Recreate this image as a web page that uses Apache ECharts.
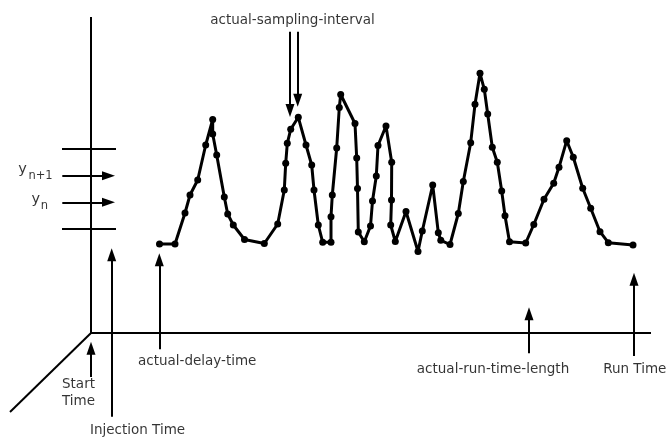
<!DOCTYPE html>
<html>
<head>
<meta charset="utf-8">
<script src="https://cdn.jsdelivr.net/npm/echarts@6/dist/echarts.min.js"></script>
<style>
html,body{margin:0;padding:0;background:#fff;}
#chart{width:670px;height:439px;}
</style>
</head>
<body>
<div id="chart"></div>
<script>
// Sampled detector signal (time, signal)
var sampleTimes = [6.85, 8.4, 9.4, 9.9, 10.67, 11.47, 12.17, 12.17, 12.57, 13.33, 13.67, 14.23, 15.35, 17.33,
  18.67, 19.33, 19.47, 19.63, 19.97, 20.73, 21.5, 22.07, 22.3, 22.73, 23.17, 24.0, 24.0, 24.13, 24.57, 24.83, 24.97,
  26.4, 26.57, 26.65, 26.73, 27.33, 27.95, 28.15, 28.53, 28.7, 29.5, 30.07, 30.05, 29.97, 30.43, 31.5, 32.7, 33.13,
  34.17, 34.73, 34.98, 35.9, 36.73, 37.23, 37.97, 38.4, 38.9, 39.33, 39.67, 40.13, 40.63, 41.07, 41.4, 41.85, 43.47,
  44.28, 45.3, 46.27, 46.8, 47.57, 48.23, 49.17, 49.97, 50.9, 51.73, 54.2];
var sampleSignal = [8.9, 8.9, 12.0, 13.8, 15.3, 18.8, 21.35, 19.9, 17.8, 13.6, 11.9, 10.8, 9.35, 8.95,
  10.9, 14.3, 16.97, 18.97, 20.37, 21.57, 18.8, 16.8, 14.3, 10.8, 9.07, 9.07, 11.63, 13.8, 18.5, 22.55, 23.85,
  20.95, 17.5, 14.45, 10.1, 9.13, 10.7, 13.2, 15.7, 18.75, 20.7, 17.07, 13.3, 10.8, 9.15, 12.15, 8.15, 10.2,
  14.8, 10.03, 9.27, 8.85, 11.95, 15.15, 19.03, 22.87, 25.97, 24.37, 21.9, 18.57, 17.07, 14.2, 11.73, 9.13, 9.0,
  10.85, 13.37, 14.97, 16.57, 19.23, 17.57, 14.47, 12.47, 10.13, 9.03, 8.8];

// Diagram axes (in time/signal units): [x1, y1, x2, y2]
var axisSegments = [
  [0, 0, 0, 31.6],
  [0, 0, 56, 0],
  [0, 0, -8.1, -7.9],
  [-2.9, 18.4, 2.5, 18.4],
  [-2.9, 10.4, 2.5, 10.4]
];
// Arrows: [x1, y1, x2, y2] (end = arrow head)
var arrowSegments = [
  [0, -4.4, 0, -1.52],
  [2.07, -8.37, 2.07, 7.82],
  [6.83, -1.63, 6.83, 7.32],
  [43.8, -2.03, 43.8, 1.92],
  [54.3, -2.3, 54.3, 5.38],
  [19.9, 30.13, 19.9, 22.25],
  [20.67, 30.13, 20.67, 23.28],
  [-2.87, 15.73, 1.75, 15.73],
  [-2.87, 13.07, 1.75, 13.07]
];
// Text labels
var labelTexts = ['actual-sampling-interval', 'actual-delay-time', 'Injection Time', 'actual-run-time-length', 'Run Time'];
var labelPos = [[20.15, 31.3], [10.62, -2.8], [4.65, -9.7], [40.2, -3.6], [54.38, -3.6]];
var leftTexts = ['Start', 'Time'];
var leftPos = [[-2.9, -5.1], [-2.9, -6.87]];
var yTexts = ['y', 'n+1', 'y', 'n'];
var yPos = [[-6.85, 16.35], [-5.05, 15.7], [-5.52, 13.35], [-4.65, 12.7]];
var ySizes = [14.5, 11.5, 14.5, 11.5];

var FONT = 'DejaVu Sans';
var TXT = '#000';
var HEAD = [9, 13];

var lineData = sampleTimes.map(function (t, i) { return [t, sampleSignal[i]]; });

var mlData = [];
axisSegments.forEach(function (s) {
  mlData.push([{coord: [s[0], s[1]], symbol: 'none'}, {coord: [s[2], s[3]], symbol: 'none'}]);
});
arrowSegments.forEach(function (s) {
  mlData.push([{coord: [s[0], s[1]], symbol: 'none'},
               {coord: [s[2], s[3]], symbol: 'triangle', symbolSize: HEAD}]);
});

function lbl(align, size) {
  return {show: true, position: 'inside', align: align, verticalAlign: 'middle',
          fontSize: size, color: TXT, fontFamily: FONT, fontWeight: 'normal',
          textBorderWidth: 0, formatter: '{b}'};
}

var textData = [];
labelTexts.forEach(function (t, i) {
  textData.push({value: labelPos[i], name: t, label: lbl('center', 13.5)});
});
leftTexts.forEach(function (t, i) {
  textData.push({value: leftPos[i], name: t, label: lbl('left', 13.5)});
});
yTexts.forEach(function (t, i) {
  textData.push({value: yPos[i], name: t, label: lbl('center', ySizes[i])});
});

var chart = echarts.init(document.getElementById('chart'), null, {renderer: 'canvas'});
chart.setOption({
  animation: false,
  backgroundColor: '#fff',
  grid: {left: 0, right: 0, top: 0, bottom: 0, containLabel: false},
  xAxis: {type: 'value', min: -9.1, max: 57.9, show: false},
  yAxis: {type: 'value', min: -10.6, max: 33.3, show: false},
  series: [
    {
      type: 'line',
      name: 'annotations',
      data: [],
      silent: true,
      markLine: {
        silent: true,
        animation: false,
        symbol: ['none', 'triangle'],
        symbolSize: [HEAD, HEAD],
        label: {show: false},
        emphasis: {disabled: true},
        lineStyle: {color: '#000', width: 2, type: 'solid'},
        data: mlData
      }
    },
    {
      type: 'line',
      name: 'signal',
      data: lineData,
      silent: true,
      symbol: 'circle',
      symbolSize: 7,
      showAllSymbol: true,
      lineStyle: {color: '#000', width: 3},
      itemStyle: {color: '#000'},
      emphasis: {disabled: true},
      z: 3
    },
    {
      type: 'scatter',
      name: 'texts',
      data: textData,
      silent: true,
      symbolSize: 1,
      itemStyle: {color: 'rgba(0,0,0,0)'},
      label: {show: true, formatter: '{b}', color: TXT, fontFamily: FONT},
      emphasis: {disabled: true},
      z: 4
    }
  ]
});
</script>
</body>
</html>
